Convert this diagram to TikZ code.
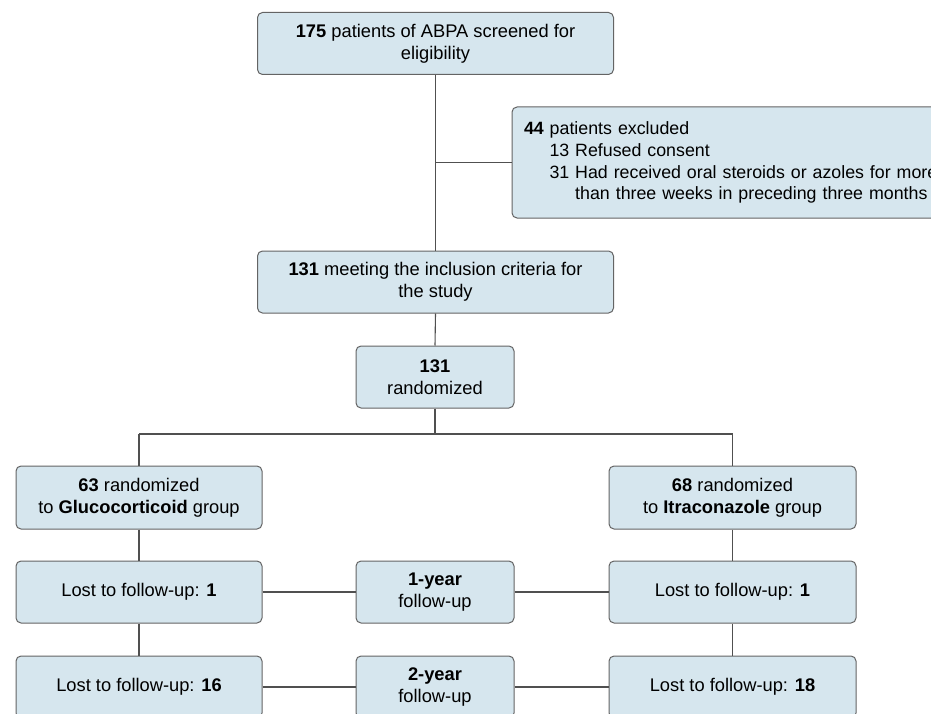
\documentclass[tikz,border=0pt]{standalone}
\usepackage{fontspec}
\setmainfont{Liberation Sans}
\definecolor{boxfill}{RGB}{214,230,238}
\definecolor{boxline}{RGB}{100,100,100}
\definecolor{conn}{RGB}{80,80,80}
\tikzset{
  box/.style={draw=boxline, fill=boxfill, rounded corners=5pt, line width=1pt,
    align=center, inner sep=0pt, font=\fontsize{18.3}{22}\selectfont},
  conline/.style={draw=conn, line width=1.1pt}
}
\begin{document}
\begin{tikzpicture}[x=1pt,y=-1pt]
\useasboundingbox (0,0) rectangle (931,714);
\clip (0,0) rectangle (931,714);
\fill[white] (0,0) rectangle (931,714);
% nodes
\node[box, minimum width=356pt, minimum height=62pt] (top) at (435.5,43.5)
  {\textbf{175} patients of ABPA screened for\\eligibility};
\node[box, minimum width=478pt, minimum height=111pt, text width=454pt, inner xsep=12pt, align=left,
  font=\fontsize{17.8}{21.8}\selectfont] (excl) at (751,162.5)
  {\textbf{44} patients excluded\\
   \hspace*{25.5pt}13 Refused consent\\
   \hspace*{25.5pt}31 Had received oral steroids or azoles for more\\
   \hspace*{25.5pt}\phantom{31 }than three weeks in preceding three months};
\node[box, minimum width=356pt, minimum height=62pt] (incl) at (435.5,282)
  {\textbf{131} meeting the inclusion criteria for\\the study};
\node[box, minimum width=158pt, minimum height=62pt] (rand) at (435,377)
  {\textbf{131}\\randomized};
\node[box, minimum width=246pt, minimum height=63pt] (gluc) at (139,497.5)
  {\textbf{63} randomized\\to \textbf{Glucocorticoid} group};
\node[box, minimum width=247pt, minimum height=63pt] (itra) at (732.5,497.5)
  {\textbf{68} randomized\\to \textbf{Itraconazole} group};
\node[box, minimum width=246pt, minimum height=62pt] (gl1) at (139,592)
  {Lost to follow-up: \textbf{1}};
\node[box, minimum width=158pt, minimum height=62pt] (y1) at (435,592)
  {\textbf{1-year}\\follow-up};
\node[box, minimum width=247pt, minimum height=62pt] (it1) at (732.5,592)
  {Lost to follow-up: \textbf{1}};
\node[box, minimum width=246pt, minimum height=62pt] (gl2) at (139,687)
  {Lost to follow-up: \textbf{16}};
\node[box, minimum width=158pt, minimum height=62pt] (y2) at (435,687)
  {\textbf{2-year}\\follow-up};
\node[box, minimum width=247pt, minimum height=62pt] (it2) at (732.5,687)
  {Lost to follow-up: \textbf{18}};
\coordinate (split) at (435,434);
% connectors
\draw[conline] (top.south) -- (incl.north);
\draw[conline] (top.south |- excl.west) -- (excl.west);
\draw[conline] (incl.south) -- (rand.north);
\draw[conline] (rand.south) -- (split);
\draw[conline] (gluc.north |- split) -- (itra.north |- split);
\draw[conline] (gluc.north |- split) -- (gluc.north);
\draw[conline] (itra.north |- split) -- (itra.north);
\draw[conline] (gluc) -- (gl1);
\draw[conline] (gl1) -- (gl2);
\draw[conline] (itra) -- (it1);
\draw[conline] (it1) -- (it2);
\draw[conline] (gl1) -- (y1);
\draw[conline] (y1) -- (it1);
\draw[conline] (gl2) -- (y2);
\draw[conline] (y2) -- (it2);
\end{tikzpicture}
\end{document}
